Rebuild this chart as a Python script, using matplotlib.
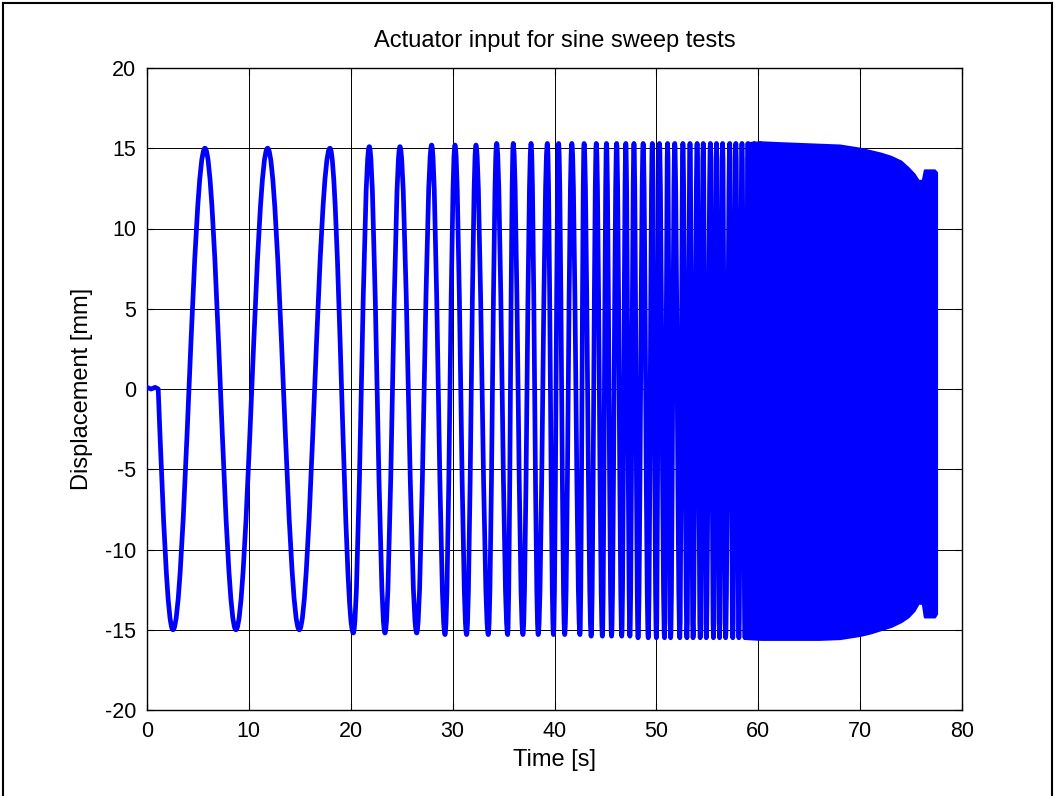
import matplotlib
matplotlib.use("Agg")
import matplotlib.pyplot as plt
from matplotlib.path import Path
from matplotlib.patches import PathPatch
from matplotlib.lines import Line2D

plt.rcParams['font.family'] = ['Liberation Sans', 'DejaVu Sans']
plt.rcParams['axes.unicode_minus'] = False

# flat start before the sweep begins
start_t = [0.0, 0.4, 0.8, 1.1]
start_y = [0.1, 0.0, 0.1, 0.0]

# troughs and peaks of the sweep (time [s], displacement [mm])
trough_t = [2.55, 8.73, 14.95, 20.25, 23.36, 26.47, 29.25, 31.37, 33.5, 35.4,
            36.9, 38.4, 39.9, 41.0, 42.5, 43.6, 44.7, 45.6, 46.6, 47.4,
            48.2, 49.2, 50.0, 50.8, 51.4, 52.3, 53.0, 53.6, 54.3, 54.9,
            55.6, 56.2, 56.8, 57.5, 58.1, 58.7, 59.3, 59.9]
trough_y = [-15.0, -15.0, -15.0, -15.2, -15.2, -15.2, -15.3, -15.3, -15.3, -15.3,
            -15.3, -15.3, -15.3, -15.3, -15.3, -15.4, -15.4, -15.4, -15.4, -15.4,
            -15.5, -15.5, -15.5, -15.5, -15.5, -15.5, -15.5, -15.5, -15.5, -15.5,
            -15.5, -15.5, -15.5, -15.5, -15.5, -15.5, -15.5, -15.5]
peak_t = [5.69, 11.84, 17.96, 21.82, 24.83, 27.94, 30.23, 32.29, 34.32, 35.95,
          37.7, 39.3, 40.4, 41.7, 42.9, 44.1, 45.1, 46.1, 47.0, 47.8,
          48.7, 49.6, 50.3, 51.1, 51.8, 52.6, 53.3, 54.0, 54.6, 55.3,
          55.9, 56.5, 57.2, 57.8, 58.4, 59.0, 59.6, 60.2]
peak_y = [15.0, 15.0, 15.0, 15.1, 15.1, 15.2, 15.2, 15.2, 15.3, 15.3,
          15.3, 15.3, 15.3, 15.3, 15.3, 15.3, 15.3, 15.3, 15.3, 15.3,
          15.3, 15.3, 15.3, 15.3, 15.3, 15.3, 15.3, 15.3, 15.3, 15.3,
          15.3, 15.3, 15.3, 15.3, 15.3, 15.3, 15.3, 15.3]

# beyond ~59 s the oscillation is too dense to resolve: upper / lower envelope
env_t = [58.8, 60.3, 62.0, 64.0, 66.0, 68.0, 70.0, 71.0, 72.0, 73.0, 74.0,
         74.7, 75.3, 75.7, 76.1, 76.3, 77.3, 77.5]
env_hi = [15.35, 15.4, 15.35, 15.3, 15.25, 15.2, 15.0, 14.85, 14.7, 14.5, 14.2,
          13.8, 13.4, 13.0, 13.0, 13.65, 13.65, 13.5]
env_lo = [-15.55, -15.6, -15.6, -15.6, -15.6, -15.55, -15.35, -15.2, -15.0, -14.8, -14.5,
          -14.2, -13.8, -13.35, -13.35, -14.2, -14.2, -14.0]

BLUE = (0, 0, 1)

fig = plt.figure(figsize=(10.55, 7.96), dpi=100)
ax = fig.add_axes([147/1055, 1 - 710/796, 815/1055, 642/796])

# extrema in time order
ext_t = []
ext_y = []
for i in range(len(trough_t)):
    ext_t += [trough_t[i], peak_t[i]]
    ext_y += [trough_y[i], peak_y[i]]

# build the curve: straight pieces for the start, bezier half waves between extrema
verts = [(start_t[0], start_y[0])]
codes = [Path.MOVETO]
for t, y in zip(start_t[1:], start_y[1:]):
    verts.append((t, y))
    codes.append(Path.LINETO)

# first quarter wave from zero down to the first trough
t0, y0 = start_t[-1], start_y[-1]
t1, y1 = ext_t[0], ext_y[0]
dt, dy = t1 - t0, y1 - y0
verts += [(t0 + 0.33 * dt, y0 + 0.52 * dy), (t0 + 0.64 * dt, y1), (t1, y1)]
codes += [Path.CURVE4] * 3

k = 0.363
for i in range(1, len(ext_t)):
    t0, y0 = ext_t[i - 1], ext_y[i - 1]
    t1, y1 = ext_t[i], ext_y[i]
    dt = t1 - t0
    verts += [(t0 + k * dt, y0), (t1 - k * dt, y1), (t1, y1)]
    codes += [Path.CURVE4] * 3

patch = PathPatch(Path(verts, codes), fill=False, edgecolor=BLUE, lw=3.4,
                  joinstyle='round', capstyle='round', zorder=3)
ax.add_patch(patch)

ax.fill_between(env_t, env_lo, env_hi, color=BLUE, lw=1.5, zorder=3)

ax.set_xlim(0, 80)
ax.set_ylim(-20, 20)
ax.set_xticks(range(0, 81, 10))
ax.set_yticks(range(-20, 21, 5))
ax.grid(True, color='black', lw=0.7, ls='-')
ax.set_axisbelow(True)
ax.tick_params(direction='in', length=5, width=0.8, labelsize=15.5,
               top=True, right=True, pad=8)
for s in ax.spines.values():
    s.set_linewidth(1.0)

ax.set_title('Actuator input for sine sweep tests', fontsize=17, pad=15)
ax.set_xlabel('Time [s]', fontsize=17, labelpad=5)
ax.set_ylabel('Displacement [mm]', fontsize=17, labelpad=8)

# figure border (left, top, right)
for xs, ys in [([0.003, 0.003], [0, 0.996]),
               ([0.003, 0.997], [0.996, 0.996]),
               ([0.997, 0.997], [0, 0.996])]:
    fig.add_artist(Line2D(xs, ys, color='black', lw=1.5, transform=fig.transFigure))

fig.savefig('out.png', dpi=100)
